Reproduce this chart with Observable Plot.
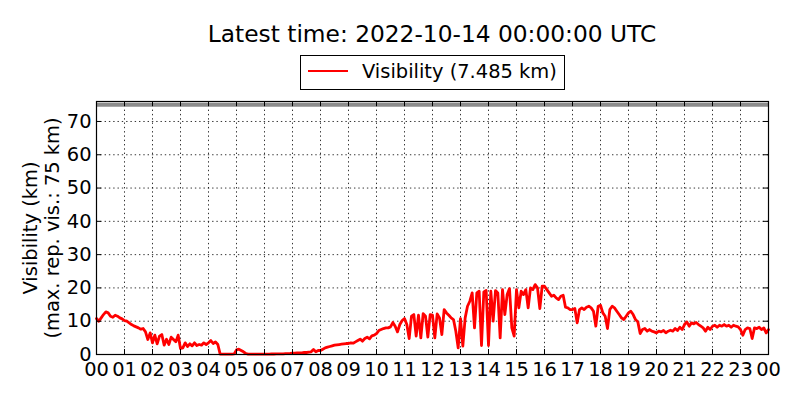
<!DOCTYPE html>
<html><head><meta charset="utf-8">
<script src="https://cdn.jsdelivr.net/npm/d3@7"></script>
<script src="https://cdn.jsdelivr.net/npm/@observablehq/plot@0.6"></script>
<style>
body{margin:0;background:#fff;font-family:"DejaVu Sans",sans-serif;color:#000}
#wrap{position:relative;width:800px;height:400px;overflow:hidden}
#head{position:relative;height:90px}
#title{position:absolute;left:96px;width:672px;top:22.3px;text-align:center;font-size:23.3px;line-height:1;white-space:nowrap}
#legend{position:absolute;left:300px;top:55px;width:263px;height:33px;border:1.2px solid #000;background:#fff}
#sw{position:absolute;left:7px;top:13.7px;width:40px;height:2.6px;background:#ff0000}
#lt{position:absolute;left:61px;top:5.9px;font-size:19.44px;line-height:1;white-space:nowrap}
#chart svg{display:block}
</style></head>
<body><div id="wrap">
<div id="head"><div id="title"></div><div id="legend"><div id="sw"></div><div id="lt"></div></div></div>
<div id="chart"></div>
</div>
<script>
const titleText = "Latest time: 2022-10-14 00:00:00 UTC";
const legendText = "Visibility (7.485 km)";
const yLabelLines = ["Visibility (km)", "(max. rep. vis.: 75 km)"];
const startDate = "2022-10-13T00:00:00Z";
const endDate = "2022-10-14T00:00:00Z";
const stepMinutes = 5;
const maxReportedVis = 75;
const yTicks = [0, 10, 20, 30, 40, 50, 60, 70];
const hourLabels = ["00","01","02","03","04","05","06","07","08","09","10","11","12","13","14","15","16","17","18","19","20","21","22","23","00"];
// visibility (km), every 5 minutes from 00:00 to 24:00 UTC
const visibility = [
 10.8, 10.0, 11.0, 12.0, 12.8, 12.5, 11.5, 11.2, 11.8, 11.5, 11.0, 10.7,
 10.2, 10.0, 9.5, 9.0, 8.6, 8.3, 8.0, 7.6, 7.8, 6.8, 4.5, 6.5,
 3.5, 5.8, 3.2, 5.5, 6.0, 2.8, 4.6, 3.0, 5.2, 4.5, 3.8, 5.8,
 1.8, 2.0, 3.5, 2.4, 3.2, 2.6, 3.5, 2.7, 3.0, 2.8, 3.5, 3.0,
 3.5, 4.2, 3.3, 3.8, 3.0, 0.1, 0.1, 0.1, 0.1, 0.1, 0.1, 0.2,
 1.4, 1.6, 1.2, 0.8, 0.3, 0.1, 0.1, 0.1, 0.1, 0.1, 0.1, 0.1,
 0.1, 0.1, 0.1, 0.15, 0.15, 0.2, 0.2, 0.2, 0.2, 0.25, 0.25, 0.3,
 0.4, 0.4, 0.5, 0.5, 0.5, 0.6, 0.6, 0.7, 0.8, 1.5, 0.8, 1.2,
 1.2, 1.6, 2.0, 2.2, 2.4, 2.6, 2.8, 2.9, 3.0, 3.1, 3.2, 3.3,
 3.3, 3.5, 3.4, 3.8, 4.2, 4.6, 4.0, 4.8, 5.2, 4.7, 5.6, 5.8,
 6.3, 7.2, 7.5, 7.8, 8.0, 8.0, 8.3, 9.6, 8.5, 6.8, 9.0, 10.2,
 10.8, 9.0, 4.8, 11.5, 12.0, 5.5, 11.8, 5.0, 12.3, 11.5, 5.2, 12.0,
 11.8, 5.0, 12.2, 11.0, 6.0, 13.5, 12.5, 11.8, 11.0, 10.5, 7.0, 2.0,
 10.8, 2.5, 11.0, 14.5, 16.0, 18.5, 8.0, 18.5, 19.0, 2.7, 18.8, 19.2,
 2.7, 19.0, 10.0, 19.2, 18.5, 5.0, 19.5, 12.0, 18.0, 19.8, 8.0, 5.5,
 19.5, 14.0, 19.0, 18.0, 19.5, 14.0, 20.0, 19.5, 21.0, 20.0, 13.8, 20.5,
 20.5, 19.5, 18.5, 17.5, 17.8, 17.0, 16.5, 17.5, 17.8, 14.2, 14.0, 13.5,
 13.5, 13.8, 9.5, 13.5, 14.0, 13.5, 14.2, 14.5, 14.0, 13.0, 8.5, 14.5,
 14.8, 12.5, 11.5, 7.8, 13.5, 14.5, 14.0, 13.0, 12.0, 11.0, 10.5, 11.5,
 12.5, 13.0, 12.0, 10.5, 9.8, 6.3, 7.5, 7.8, 7.0, 7.5, 7.0, 6.8,
 6.5, 7.0, 6.8, 7.2, 6.5, 7.0, 7.3, 7.0, 7.8, 7.2, 8.2, 7.5,
 9.0, 9.8, 8.5, 9.5, 9.2, 9.6, 9.0, 8.5, 8.0, 7.0, 8.2, 7.5,
 8.5, 8.8, 8.2, 8.8, 8.5, 9.0, 8.5, 8.8, 8.2, 8.8, 8.5, 8.3,
 7.5, 5.8, 7.5, 8.0, 7.8, 4.8, 8.0, 7.8, 8.2, 7.5, 8.0, 6.5,
 7.485
];

document.getElementById("title").textContent = titleText;
document.getElementById("lt").textContent = legendText;

const t0 = new Date(startDate), t1 = new Date(endDate);
const data = visibility.map((v, i) => ({t: new Date(+t0 + i * stepMinutes * 60000), v}));
const xTicks = hourLabels.map((_, i) => d3.utcHour.offset(t0, i));

const W = 800, H = 310, mt = 11, mb = 46, ml = 96, mr = 32;
const innerW = W - ml - mr, innerH = H - mt - mb, tl = 5;
const grid = {stroke: "#000", strokeWidth: 0.8, strokeDasharray: "1.4,2.9"};

const chart = Plot.plot({
  width: W, height: H,
  marginTop: mt, marginBottom: mb, marginLeft: ml, marginRight: mr,
  style: {fontFamily: "DejaVu Sans", fontSize: "19.44px", color: "#000", background: "#fff"},
  x: {type: "utc", domain: [t0, t1]},
  y: {domain: [0, 76]},
  marks: [
    Plot.ruleX(xTicks, grid),
    Plot.ruleY(yTicks, grid),
    Plot.ruleY([maxReportedVis], {stroke: "#8c8c8c", strokeWidth: 4}),
    Plot.line(data, {x: "t", y: "v", stroke: "#ff0000", strokeWidth: 2.8, strokeLinejoin: "round"}),
    Plot.ruleX(xTicks, {stroke: "#000", insetTop: innerH - tl}),
    Plot.ruleX(xTicks, {stroke: "#000", insetBottom: innerH - tl}),
    Plot.ruleY(yTicks, {stroke: "#000", insetRight: innerW - tl}),
    Plot.ruleY(yTicks, {stroke: "#000", insetLeft: innerW - tl}),
    Plot.frame({stroke: "#000", strokeWidth: 1.2}),
    Plot.axisX(xTicks, {tickSize: 0, tickPadding: 8, tickFormat: (d, i) => hourLabels[i], fontSize: 19.44, label: null}),
    Plot.axisY(yTicks, {tickSize: 0, tickPadding: 5, fontSize: 19.44, label: null}),
    Plot.text([yLabelLines.join("\n")], {frameAnchor: "left", dx: -56, rotate: -90, textAnchor: "middle", lineAnchor: "middle", lineHeight: 1.13, fontSize: 19.44, fill: "#000"})
  ]
});
document.getElementById("chart").appendChild(chart);
</script>
</body></html>
